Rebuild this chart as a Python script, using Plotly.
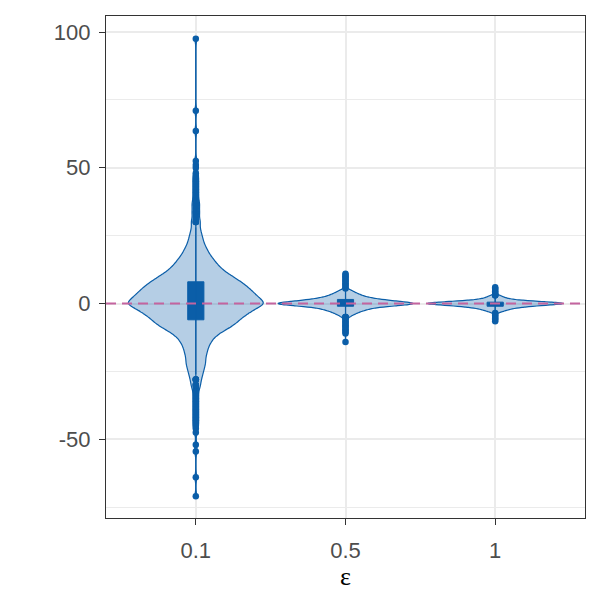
import numpy as np
import plotly.graph_objects as go

categories = ["0.1", "0.5", "1"]

# eps = 0.1 : bulk of the sample as (value, count) plus the single outliers
eps01_values = [-30, -28, -26, -24, -22, -20, -18, -16, -14, -12, -10, -8, -6, -4, -2, 0,
                2, 4, 6, 8, 10, 12, 14, 16, 18, 20, 22, 24, 26, 28, 30]
eps01_counts = [3, 4, 5, 6, 7, 7, 8, 9, 11, 14, 20, 27, 31, 36, 42, 50,
                45, 41, 37, 32, 26, 20, 16, 13, 10, 8, 6, 5, 4, 3, 3]
eps01_outliers = [31, 32, 33, 33.5, 34, 35, 36, 36.5, 37, 38, 39, 40, 41, 42, 43, 44, 45,
                  46, 47, 48, 50, 51, 52.5, 63.5, 71, 97.5,
                  -31, -32, -33, -34, -35, -36, -37, -38, -39, -40, -41, -42, -43, -44,
                  -45, -46, -47.5, -52, -54.5, -64, -71]

# eps = 0.5
eps05_values = [-5, -4.5, -4, -3.5, -3, -2.5, -2, -1.5, -1, -0.5, 0,
                0.5, 1, 1.5, 2, 2.5, 3, 3.5, 4, 4.5, 5]
eps05_counts = [3, 4, 6, 8, 10, 13, 16, 20, 30, 42, 50,
                42, 32, 24, 18, 14, 11, 9, 7, 5, 4]
eps05_outliers = [5.5, 6, 6.5, 7, 7.5, 8, 8.5, 9, 9.5, 10, 10.5, 11,
                  -5.5, -6, -6.5, -7, -7.5, -8, -8.5, -9, -9.5, -10, -10.5, -11, -14.2]

# eps = 1
eps1_values = [-3, -2.5, -2, -1.5, -1, -0.5, 0, 0.5, 1, 1.5, 2, 2.5, 3]
eps1_counts = [5, 7, 10, 15, 24, 34, 50, 38, 20, 11, 7, 5, 3]
eps1_outliers = [3.5, 4, 4.5, 5, 5.5, 6,
                 -3.5, -4, -4.5, -5, -5.5, -6, -6.5]

bandwidths = [1.3, 0.45, 0.4]
ref_line_y = 0

BLUE = "#0b5ea8"
FILL = "rgba(11,94,168,0.30)"
PINK = "#c4649f"
TEXT = "#4d4d4d"
AXIS = "#333333"

samples = [
    np.concatenate([np.repeat(eps01_values, eps01_counts), eps01_outliers]),
    np.concatenate([np.repeat(eps05_values, eps05_counts), eps05_outliers]),
    np.concatenate([np.repeat(eps1_values, eps1_counts), eps1_outliers]),
]

fig = go.Figure()
for cat, y, bw in zip(categories, samples, bandwidths):
    fig.add_trace(go.Violin(
        x=[cat] * len(y), y=y, name=cat,
        bandwidth=bw, spanmode="hard", scalemode="width", width=0.9,
        line=dict(color=BLUE, width=1.2), fillcolor=FILL,
        points="outliers", pointpos=0, jitter=0,
        marker=dict(color=BLUE, size=6.5, line=dict(width=0)),
        box=dict(visible=True, width=0.12, fillcolor=BLUE, line=dict(color=BLUE, width=1)),
        meanline=dict(visible=False),
        showlegend=False, hoverinfo="skip",
    ))
    # range line from min to max of the sample
    fig.add_trace(go.Scatter(
        x=[cat, cat], y=[y.min(), y.max()], mode="lines",
        line=dict(color=BLUE, width=1.2), showlegend=False, hoverinfo="skip",
    ))

fig.add_shape(type="line", xref="paper", x0=0, x1=1, y0=ref_line_y, y1=ref_line_y,
              layer="above", line=dict(color=PINK, width=2.2, dash="10px,6px"))

# the page body has an 8px margin, so the figure is 592px and margins are shifted
fig.update_layout(
    width=592, height=592,
    margin=dict(l=98, r=15, t=8, b=82),
    paper_bgcolor="white", plot_bgcolor="white",
    violinmode="overlay",
    font=dict(family="Liberation Sans, Arial, sans-serif", color=TEXT, size=22),
)
fig.update_xaxes(
    type="category", categoryorder="array", categoryarray=categories,
    range=[-0.6, 2.6],
    showgrid=True, gridcolor="#ebebeb", gridwidth=1.6,
    showline=True, mirror=True, linecolor=AXIS, linewidth=1.2,
    ticks="outside", ticklen=6, tickwidth=1.4, tickcolor=AXIS,
    ticklabelstandoff=6,
    tickfont=dict(size=22, color=TEXT),
    title=dict(text="ε", font=dict(family="Liberation Serif, serif", size=26, color="black"), standoff=3),
)
fig.update_yaxes(
    range=[-79, 105.9],
    tickvals=[-50, 0, 50, 100], ticktext=["-50", "0", "50", "100"],
    showgrid=True, gridcolor="#ebebeb", gridwidth=1.6, zeroline=False,
    minor=dict(tickvals=[-75, -25, 25, 75], showgrid=True, gridcolor="#ebebeb", gridwidth=0.8, ticks=""),
    showline=True, mirror=True, linecolor=AXIS, linewidth=1.2,
    ticks="outside", ticklen=6, tickwidth=1.4, tickcolor=AXIS,
    ticklabelstandoff=4,
    tickfont=dict(size=22, color=TEXT),
)

fig.write_html("out.html")
